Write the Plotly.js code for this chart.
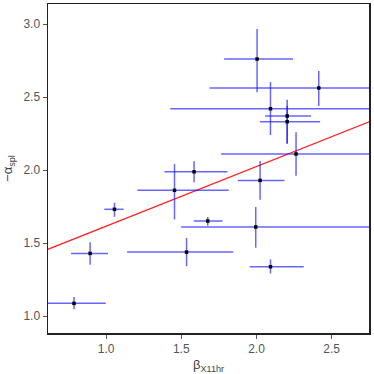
<!DOCTYPE html>
<html>
<head>
<script src="https://cdn.plot.ly/plotly-3.0.1.min.js"></script>
<style>html,body{margin:0;padding:0;background:#fff}#chart{width:374px;height:374px}</style>
</head>
<body>
<div id="chart"></div>
<script>
const beta = [2.004, 2.414, 2.093, 2.204, 2.204, 2.263, 1.455, 1.585, 2.024, 1.056, 1.676, 1.995, 0.894, 1.535, 2.093, 0.787];
const alpha = [2.760, 2.562, 2.420, 2.370, 2.331, 2.110, 1.861, 1.988, 1.929, 1.731, 1.651, 1.610, 1.429, 1.438, 1.338, 1.087];
const betaErrPlus = [0.239, 0.60, 0.75, 0.159, 0.219, 0.60, 0.361, 0.222, 0.162, 0.061, 0.098, 0.80, 0.119, 0.311, 0.221, 0.211];
const betaErrMinus = [0.219, 0.726, 0.666, 0.147, 0.180, 0.498, 0.247, 0.197, 0.148, 0.068, 0.093, 0.496, 0.127, 0.395, 0.138, 0.30];
const alphaErrPlus = [0.205, 0.116, 0.183, 0.112, 0.11, 0.148, 0.180, 0.072, 0.133, 0.045, 0.027, 0.137, 0.076, 0.096, 0.050, 0.043];
const alphaErrMinus = [0.228, 0.124, 0.180, 0.190, 0.15, 0.150, 0.199, 0.072, 0.132, 0.051, 0.032, 0.142, 0.078, 0.096, 0.046, 0.041];
const fitX = [0.5, 2.9];
const fitY = [1.411, 2.392];

const errColor = 'rgba(20,20,255,0.65)';
const data = [
  {
    x: fitX, y: fitY, mode: 'lines', type: 'scatter',
    line: {color: '#ff2020', width: 1.3}, hoverinfo: 'skip', showlegend: false
  },
  {
    x: beta, y: alpha, mode: 'markers', type: 'scatter',
    marker: {color: '#000', size: 3.5, symbol: 'square'},
    error_x: {type: 'data', symmetric: false, array: betaErrPlus, arrayminus: betaErrMinus, color: errColor, thickness: 1.5, width: 0},
    error_y: {type: 'data', symmetric: false, array: alphaErrPlus, arrayminus: alphaErrMinus, color: errColor, thickness: 1.5, width: 0},
    showlegend: false
  }
];

const layout = {
  width: 374, height: 374,
  margin: {l: 48, r: 5, t: 4, b: 41},
  paper_bgcolor: '#fff', plot_bgcolor: '#fff',
  font: {family: 'Liberation Sans, Arial, sans-serif', color: '#555', size: 12},
  showlegend: false,
  xaxis: {
    range: [0.614, 2.748], tickvals: [1.0, 1.5, 2.0, 2.5], ticktext: ['1.0','1.5','2.0','2.5'],
    ticks: 'outside', ticklen: 4, tickcolor: '#555', showgrid: false, zeroline: false,
    showline: true, linecolor: '#222', linewidth: 1.5, mirror: true,
    title: {text: 'β<sub>X11hr</sub>', font: {size: 13, color: '#444'}, standoff: 9}
  },
  yaxis: {
    range: [0.884, 3.137], tickvals: [1.0, 1.5, 2.0, 2.5, 3.0], ticktext: ['1.0','1.5','2.0','2.5','3.0'],
    ticks: 'outside', ticklen: 4, tickcolor: '#555', showgrid: false, zeroline: false,
    showline: true, linecolor: '#222', linewidth: 1.5, mirror: true,
    title: {text: '−α<sub>spl</sub>', font: {size: 13, color: '#444'}, standoff: 8}
  }
};

Plotly.newPlot('chart', data, layout, {displayModeBar: false, staticPlot: true});
</script>
</body>
</html>
